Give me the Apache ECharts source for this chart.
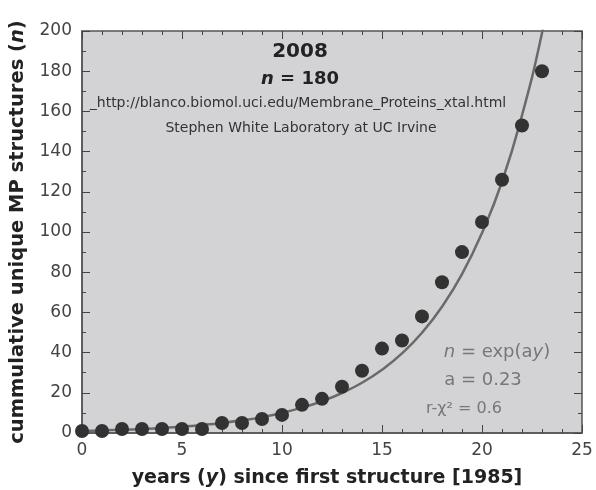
<!DOCTYPE html>
<html><head><meta charset="utf-8">
<script src="https://cdn.jsdelivr.net/npm/echarts@6/dist/echarts.min.js"></script>
<style>html,body{margin:0;padding:0;background:#fff}#c{width:596px;height:490px}</style>
</head><body><div id="c"></div>
<script>
// Observed data: cumulative unique membrane-protein structures per year since 1985
const years = [0,1,2,3,4,5,6,7,8,9,10,11,12,13,14,15,16,17,18,19,20,21,22,23];
const counts = [1,1,2,2,2,2,2,5,5,7,9,14,17,23,31,42,46,58,75,90,105,126,153,180];
// Fitted curve values
const fitYears = [0,1,2,3,4,5,6,7,8,9,10,11,12,13,14,15,16,17,18,19,20,21,22,23,24];
const fitValues = [1,1.3,1.6,2,2.5,3.2,4,5,6.3,7.9,10,12.6,15.8,19.9,25,31.5,39.6,49.9,62.8,79,99.5,125,158,199,250];
const xTicks = [0,5,10,15,20,25];
const yTicks = [0,20,40,60,80,100,120,140,160,180,200];

const FONT = 'DejaVu Sans';
const chart = echarts.init(document.getElementById('c'));
const tickCommon = {show:true, inside:true, length:8, lineStyle:{color:'#444', width:1}};
const minorCommon = {show:true, length:4, lineStyle:{color:'#444', width:1}};
chart.setOption({
  animation:false,
  backgroundColor:'#fff',
  grid:{left:82, top:31, right:14, bottom:57, containLabel:false, outerBoundsMode:'none',
    show:true, backgroundColor:'#d3d3d5', borderColor:'#555', borderWidth:1.5},
  xAxis:[{
    type:'value', min:0, max:25, interval:5,
    axisLine:{show:true, onZero:false, lineStyle:{color:'#555', width:1.5}},
    axisTick:tickCommon, minorTick:Object.assign({splitNumber:5}, minorCommon),
    splitLine:{show:false},
    axisLabel:{color:'#444', fontFamily:FONT, fontSize:17, margin:9, formatter:v=>xTicks.includes(v)?String(v):''},
    name:'{a|years (}{i|y}{a|) since first structure [1985]}',
    nameLocation:'middle', nameGap:36,
    nameTextStyle:{padding:[0,10,0,0], rich:{
      a:{fontFamily:FONT, fontWeight:'bold', fontSize:19, color:'#222'},
      i:{fontFamily:FONT, fontWeight:'bold', fontStyle:'italic', fontSize:19, color:'#222'}}}
  },{
    type:'value', min:0, max:25, interval:5, position:'top',
    axisLine:{show:false, onZero:false}, axisTick:tickCommon, minorTick:Object.assign({splitNumber:5}, minorCommon),
    splitLine:{show:false}, axisLabel:{show:false}
  }],
  yAxis:[{
    type:'value', min:0, max:200, interval:20,
    axisLine:{show:true, onZero:false, lineStyle:{color:'#555', width:1.5}},
    axisTick:tickCommon, minorTick:Object.assign({splitNumber:2}, minorCommon),
    splitLine:{show:false},
    axisLabel:{color:'#444', fontFamily:FONT, fontSize:17, margin:10, formatter:v=>yTicks.includes(v)?String(v):''},
    name:'{a|cummulative unique MP structures (}{i|n}{a|)}',
    nameLocation:'middle', nameGap:54,
    nameTextStyle:{rich:{
      a:{fontFamily:FONT, fontWeight:'bold', fontSize:19.5, color:'#222'},
      i:{fontFamily:FONT, fontWeight:'bold', fontStyle:'italic', fontSize:19.5, color:'#222'}}}
  },{
    type:'value', min:0, max:200, interval:20, position:'right',
    axisLine:{show:false, onZero:false}, axisTick:tickCommon, minorTick:Object.assign({splitNumber:2}, minorCommon),
    splitLine:{show:false}, axisLabel:{show:false}
  }],
  series:[{
    type:'line', name:'fit', data:fitYears.map((x,i)=>[x, fitValues[i]]),
    smooth:true, showSymbol:false, symbol:'none', clip:true,
    lineStyle:{color:'#6a6a6a', width:2.5}, z:2
  },{
    type:'scatter', name:'structures', data:years.map((x,i)=>[x, counts[i]]),
    symbol:'circle', symbolSize:14, itemStyle:{color:'#323232', opacity:1}, z:3
  }],
  graphic:[
    {type:'text', x:300, y:52, style:{text:'2008', align:'center', verticalAlign:'middle', font:'bold 20px "DejaVu Sans"', fill:'#222'}, z:10},
    {type:'text', x:300, y:79, style:{text:'{i|n}{a| = 180}', align:'center', verticalAlign:'middle',
      rich:{i:{font:'bold italic 18px "DejaVu Sans"', fill:'#222'}, a:{font:'bold 18px "DejaVu Sans"', fill:'#222'}}}, z:10},
    {type:'text', x:298, y:103, style:{text:'_http://blanco.biomol.uci.edu/Membrane_Proteins_xtal.html', align:'center', verticalAlign:'middle', font:'14px "DejaVu Sans"', fill:'#333'}, z:10},
    {type:'text', x:301, y:128, style:{text:'Stephen White Laboratory at UC Irvine', align:'center', verticalAlign:'middle', font:'14px "DejaVu Sans"', fill:'#333'}, z:10},
    {type:'text', x:497, y:352, style:{text:'{i|n}{a| = exp(a}{i|y}{a|)}', align:'center', verticalAlign:'middle',
      rich:{i:{font:'italic 18px "DejaVu Sans"', fill:'#777'}, a:{font:'18px "DejaVu Sans"', fill:'#777'}}}, z:10},
    {type:'text', x:483, y:380, style:{text:'a = 0.23', align:'center', verticalAlign:'middle', font:'18px "DejaVu Sans"', fill:'#777'}, z:10},
    {type:'text', x:464, y:409, style:{text:'r-χ² = 0.6', align:'center', verticalAlign:'middle', font:'16px "DejaVu Sans"', fill:'#777'}, z:10}
  ]
});
</script></body></html>
